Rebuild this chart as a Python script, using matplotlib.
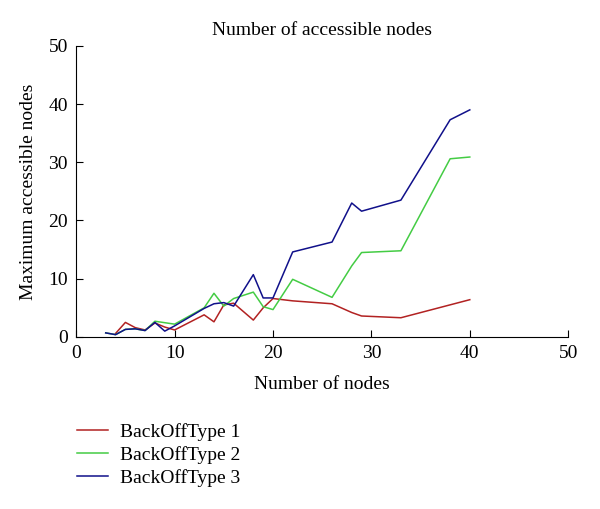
import numpy as np
import matplotlib.pyplot as plt

plt.rcParams['font.family'] = ['Liberation Serif', 'DejaVu Serif']

# data
x1 = [4, 5, 6, 7, 8, 9, 10, 13, 14, 15, 16, 18, 19, 20, 22, 26, 28, 29, 33, 40]
y1 = [0.6, 2.5, 1.6, 1.2, 2.4, 1.7, 1.2, 3.8, 2.6, 5.5, 5.8, 2.9, 5.0, 6.6, 6.2, 5.7, 4.2, 3.6, 3.3, 6.4]

x2 = [3, 4, 5, 6, 7, 8, 10, 13, 14, 15, 16, 18, 19, 20, 22, 26, 28, 29, 33, 38, 40]
y2 = [0.7, 0.4, 1.3, 1.4, 1.1, 2.7, 2.2, 5.0, 7.5, 5.3, 6.6, 7.7, 5.2, 4.7, 9.9, 6.8, 12.2, 14.5, 14.8, 30.6, 30.9]

x3 = [3, 4, 5, 6, 7, 8, 9, 10, 13, 14, 15, 16, 18, 19, 20, 22, 26, 28, 29, 33, 38, 40]
y3 = [0.7, 0.4, 1.3, 1.4, 1.1, 2.5, 1.0, 1.9, 4.9, 5.7, 5.9, 5.3, 10.7, 6.7, 6.7, 14.6, 16.3, 23.0, 21.6, 23.5, 37.3, 39.0]

labels = ['BackOffType 1', 'BackOffType 2', 'BackOffType 3']
colors = ['#b22222', '#44cc44', '#10108a']

fig = plt.figure(figsize=(6.0, 5.09), dpi=100)
ax = fig.add_axes([0.127, 0.338, 0.82, 0.572])

ax.plot(x1, y1, color=colors[0], lw=1.1, label=labels[0])
ax.plot(x2, y2, color=colors[1], lw=1.1, label=labels[1])
ax.plot(x3, y3, color=colors[2], lw=1.1, label=labels[2])

ax.set_xlim(0, 50)
ax.set_ylim(0, 50)
ax.set_xticks([0, 10, 20, 30, 40, 50])
ax.set_yticks([0, 10, 20, 30, 40, 50])
ax.spines['top'].set_visible(False)
ax.spines['right'].set_visible(False)
ax.tick_params(direction='in', length=5, labelsize=14, pad=6)

ax.set_title('Number of accessible nodes', fontsize=14, pad=8)
ax.set_xlabel('Number of nodes', fontsize=14, labelpad=10)
ax.set_ylabel('Maximum accessible nodes', fontsize=14, labelpad=8)

ax.legend(loc='upper left', bbox_to_anchor=(0.115, 0.184), bbox_transform=fig.transFigure,
          frameon=False, fontsize=14, handlelength=1.6, handletextpad=0.6,
          labelspacing=0.26, borderaxespad=0)

plt.savefig('out.png')
